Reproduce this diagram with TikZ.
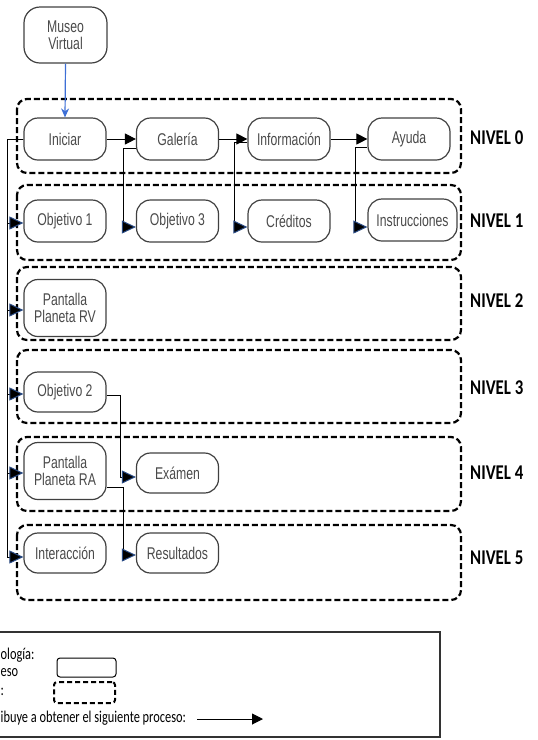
\documentclass[tikz,border=0pt]{standalone}
\usepackage{fontspec}
\usetikzlibrary{arrows.meta}
\newfontfamily\nodefont[FakeStretch=0.72]{Liberation Sans}
\newfontfamily\levelfont[FakeStretch=0.8]{Carlito}
\newfontfamily\legendfont[FakeStretch=0.75]{Carlito}
\definecolor{nodetext}{HTML}{4A4A4A}
\definecolor{nodeline}{HTML}{404040}
\definecolor{tipblue}{HTML}{2B4C86}
\definecolor{linkblue}{HTML}{3D6FD6}
\begin{document}
\begin{tikzpicture}[x=1pt,y=-1pt,
  proc/.style={draw=nodeline, line width=1.2pt, rounded corners=14pt,
    minimum width=82pt, minimum height=42pt, inner sep=0pt, text=nodetext,
    align=center, font=\nodefont\fontsize{17pt}{17.5pt}\selectfont},
  levelbox/.style={draw=black, line width=2.2pt, dash pattern=on 6pt off 3pt,
    rounded corners=10pt},
  levellabel/.style={anchor=west, inner sep=0pt,
    font=\levelfont\bfseries\fontsize{21pt}{24pt}\selectfont},
  flow/.style={draw=black, line width=1pt, -{Triangle[length=11pt,width=11pt]}},
  branch/.style={draw=black, line width=1pt,
    -{Triangle[length=14pt,width=13pt,color=tipblue,fill=black]}},
  legendtext/.style={anchor=west, inner sep=0pt,
    font=\legendfont\fontsize{16.5pt}{19pt}\selectfont},
]
\useasboundingbox (0,0) rectangle (538,740);
\clip (0,0) rectangle (538,740);

% level frames
\draw[levelbox] (17,99)  rectangle (461,173);
\draw[levelbox] (17,185) rectangle (461,260);
\draw[levelbox] (17,267) rectangle (461,340);
\draw[levelbox] (17,350) rectangle (461,423);
\draw[levelbox] (17,437) rectangle (461,511);
\draw[levelbox] (17,525) rectangle (461,600);

\node[levellabel] (n0) at (470,138) {NIVEL 0};
\node[levellabel] (n1) at (470,221) {NIVEL 1};
\node[levellabel] (n2) at (470,301) {NIVEL 2};
\node[levellabel] (n3) at (470,388) {NIVEL 3};
\node[levellabel] (n4) at (470,473) {NIVEL 4};
\node[levellabel] (n5) at (470,558) {NIVEL 5};

% process nodes
\node[proc, minimum width=83pt, minimum height=56pt, rounded corners=16pt] (museo) at (65.5,35) {Museo\\Virtual};
\node[proc] (iniciar) at (65,139) {Iniciar};
\node[proc] (galeria) at (177.5,139) {Galería};
\node[proc] (info) at (289,139) {Información};
\node[proc] (ayuda) at (409,139) {Ayuda};

\node[proc] (obj1) at (65,221) {Objetivo 1};
\node[proc] (obj3) at (177.5,221) {Objetivo 3};
\node[proc] (creditos) at (289,221) {Créditos};
\node[proc, minimum width=89pt] (instr) at (412.5,220) {Instrucciones};

\node[proc, minimum height=57pt] (pantrv) at (65,308) {Pantalla\\Planeta RV};
\node[proc, minimum height=40pt] (obj2) at (65,392) {Objetivo 2};
\node[proc, minimum height=57pt] (pantra) at (65,471) {Pantalla\\Planeta RA};
\node[proc, minimum height=40pt] (examen) at (177.5,473) {Exámen};
\node[proc, minimum height=40pt] (interac) at (65,553) {Interacción};
\node[proc, minimum height=40pt] (result) at (177.5,553) {Resultados};

% entry
\draw[linkblue, line width=1.2pt, -{Stealth[length=9pt,width=8pt]}] (museo.south) -- (iniciar.north);

% level 0 chain
\draw[flow] (iniciar) -- (galeria);
\draw[flow] (galeria) -- (info);
\draw[flow] (info) -- (ayuda);

% left bus from Iniciar
\draw[branch] (iniciar.west) -| ([xshift=-16pt,yshift=-2pt]obj1.west) -- ([yshift=-2pt]obj1.west);
\draw[branch] (iniciar.west) -| ([xshift=-16pt,yshift=-2pt]pantrv.west) -- ([yshift=-2pt]pantrv.west);
\draw[branch] (iniciar.west) -| ([xshift=-16pt,yshift=-2pt]obj2.west) -- ([yshift=-2pt]obj2.west);
\draw[branch] (iniciar.west) -| ([xshift=-16pt,yshift=-2pt]pantra.west) -- ([yshift=-2pt]pantra.west);
\draw[branch] (iniciar.west) -| ([xshift=-16pt,yshift=-4pt]interac.west) -- ([yshift=-4pt]interac.west);

% drops from level 0 to level 1
\draw[branch] ([yshift=-9pt]galeria.west) -- ++(-12,0) |- ([yshift=-6pt]obj3.west);
\draw[branch] ([yshift=-3pt]info.west) -- ++(-13,0) |- ([yshift=-6pt]creditos.west);
\draw[branch] ([yshift=-8pt]ayuda.west) -- ++(-12,0) |- ([yshift=-7pt]instr.west);

% lower branches
\draw[branch] ([yshift=-3pt]obj2.east) -- ++(14,0) |- ([yshift=-4pt]examen.west);
\draw[branch] ([yshift=-16pt]pantra.east) -- ++(17,0) |- ([yshift=-2pt]result.west);

% legend
\draw[black!80, line width=1.2pt] (-5,632) rectangle (440,737);
\node[legendtext] (lg1) at (0.5,655) {ología:};
\node[legendtext] (lg2) at (0.5,673) {eso};
\node[legendtext] (lg3) at (0.5,692) {:};
\node[legendtext] (lg4) at (0.5,718) {ibuye a obtener el siguiente proceso:};
\node[draw=black, line width=1pt, rounded corners=3pt, minimum width=59pt, minimum height=19pt, inner sep=0pt] (lgproc) at (86.5,667.5) {};
\node[draw=black, line width=2pt, dash pattern=on 5pt off 3pt, rounded corners=3pt, minimum width=61pt, minimum height=21pt, inner sep=0pt] (lglevel) at (84.5,692.5) {};
\coordinate (lga) at (197,719);
\coordinate (lgb) at (263,719);
\draw[flow] (lga) -- (lgb);
\end{tikzpicture}
\end{document}
